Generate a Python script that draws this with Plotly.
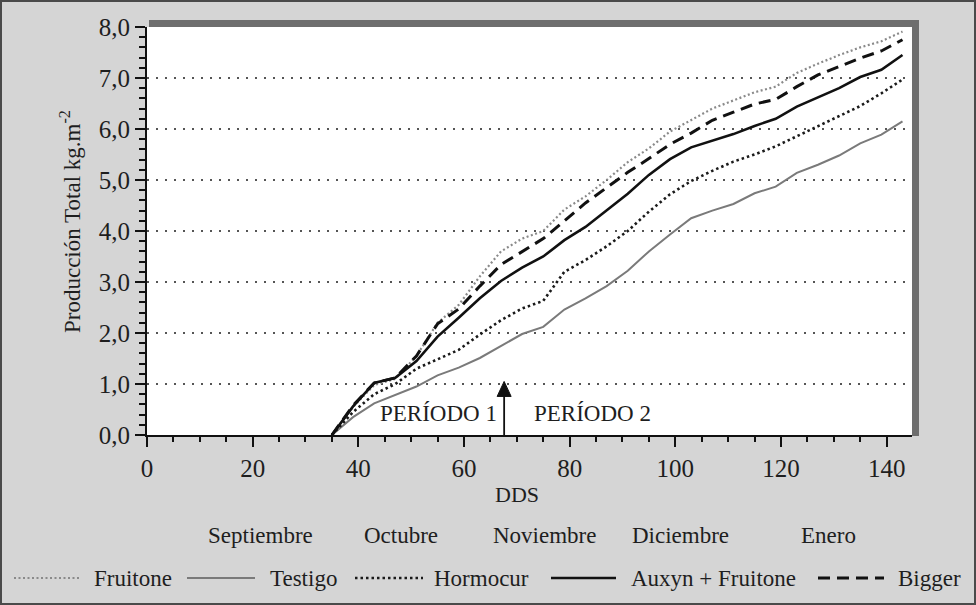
import plotly.graph_objects as go

# ---- data ----
dds = [35, 39, 43, 47, 51, 55, 59, 63, 67, 71, 75, 79, 83, 87, 91, 95, 99,
       103, 107, 111, 115, 119, 123, 127, 131, 135, 139, 143]

fruitone = [0, 0.55, 0.98, 1.10, 1.55, 2.20, 2.55, 3.11, 3.60, 3.85, 4.00, 4.42, 4.68,
            5.00, 5.35, 5.62, 5.95, 6.18, 6.40, 6.56, 6.72, 6.83, 7.10, 7.28, 7.45,
            7.60, 7.72, 7.91]
testigo = [0, 0.35, 0.62, 0.78, 0.95, 1.17, 1.32, 1.51, 1.75, 1.98, 2.12, 2.46, 2.68,
           2.92, 3.22, 3.60, 3.93, 4.25, 4.40, 4.53, 4.74, 4.87, 5.14, 5.30, 5.48,
           5.72, 5.89, 6.15]
hormocur = [0, 0.45, 0.80, 1.00, 1.30, 1.48, 1.67, 1.97, 2.25, 2.48, 2.63, 3.20, 3.43,
            3.70, 4.00, 4.38, 4.72, 4.98, 5.18, 5.36, 5.50, 5.66, 5.86, 6.05, 6.25,
            6.45, 6.70, 6.97]
auxyn = [0, 0.56, 1.02, 1.12, 1.45, 1.93, 2.30, 2.68, 3.02, 3.28, 3.50, 3.82, 4.08,
         4.40, 4.73, 5.10, 5.41, 5.64, 5.77, 5.90, 6.06, 6.20, 6.44, 6.62, 6.80,
         7.02, 7.16, 7.45]
bigger = [0, 0.58, 1.02, 1.12, 1.55, 2.18, 2.47, 2.92, 3.34, 3.60, 3.85, 4.20, 4.55,
          4.85, 5.15, 5.42, 5.70, 5.92, 6.17, 6.33, 6.49, 6.58, 6.83, 7.06, 7.22,
          7.39, 7.53, 7.75]

series_names = ["Fruitone", "Testigo", "Hormocur", "Auxyn + Fruitone", "Bigger"]
months = ["Septiembre", "Octubre", "Noviembre", "Diciembre", "Enero"]
periods = ["PERÍODO 1", "PERÍODO 2"]
arrow_dds = 67.6
arrow_top = 1.05
x_ticks = [0, 20, 40, 60, 80, 100, 120, 140]
y_ticks = [0, 1, 2, 3, 4, 5, 6, 7, 8]

FONT = "Liberation Serif, Times New Roman, serif"
TXT = "#1e1e1e"
BG = "#d5d5d5"

styles = [
    dict(color="#8a8a8a", width=2.2, dash="2px,2.5px"),
    dict(color="#7a7a7a", width=2.0, dash="solid"),
    dict(color="#1a1a1a", width=2.6, dash="2.5px,3px"),
    dict(color="#111111", width=2.6, dash="solid"),
    dict(color="#111111", width=3.0, dash="12px,7px"),
]
values = [fruitone, testigo, hormocur, auxyn, bigger]

fig = go.Figure()
for name, vals, st in zip(series_names, values, styles):
    fig.add_trace(go.Scatter(x=dds, y=vals, mode="lines", name=name,
                             line=dict(color=st["color"], width=st["width"], dash=st["dash"]),
                             showlegend=False))

L, R, T, B = 147, 64, 27, 170
W_PLOT = 976.0 - L - R
H_PLOT = 605.0 - T - B


def px_x(px):
    return (px - L) / W_PLOT


def px_y(py):
    return (605 - B - py) / H_PLOT


shapes = []
annotations = []

# figure border
shapes.append(dict(type="rect", xref="paper", yref="paper",
                   x0=px_x(1), x1=px_x(975), y0=px_y(604), y1=px_y(1),
                   line=dict(color="#4a4a4a", width=2), fillcolor="rgba(0,0,0,0)", layer="below"))
# thick grey frame on top and right of the plot area
shapes.append(dict(type="rect", xref="paper", yref="paper",
                   x0=px_x(149), x1=px_x(919), y0=px_y(27), y1=px_y(20),
                   line=dict(width=0), fillcolor="#6e6e6e"))
shapes.append(dict(type="rect", xref="paper", yref="paper",
                   x0=px_x(912), x1=px_x(919), y0=px_y(436), y1=px_y(20),
                   line=dict(width=0), fillcolor="#6e6e6e"))

# arrow between periods
shapes.append(dict(type="line", xref="x", yref="y", x0=arrow_dds, x1=arrow_dds,
                   y0=0, y1=arrow_top - 0.2, line=dict(color="#111111", width=1.8)))
shapes.append(dict(type="path", xref="x", yref="y", xsizemode="pixel", ysizemode="pixel",
                   xanchor=arrow_dds, yanchor=arrow_top,
                   path="M-7,-15 L7,-15 L0,0 Z", fillcolor="#111111",
                   line=dict(color="#111111", width=1)))

# custom legend
leg_y = px_y(578)
leg_samples = [(14, 81, 92), (187, 255, 268), (355, 423, 432), (551, 616, 629), (818, 884, 896)]
for (sx0, sx1, tx), name, st in zip(leg_samples, series_names, styles):
    shapes.append(dict(type="line", xref="paper", yref="paper",
                       x0=px_x(sx0), x1=px_x(sx1), y0=leg_y, y1=leg_y,
                       line=dict(color=st["color"], width=st["width"], dash=st["dash"])))
    annotations.append(dict(xref="paper", yref="paper", x=px_x(tx), y=leg_y,
                            xanchor="left", yanchor="middle", showarrow=False,
                            text=name, font=dict(family=FONT, size=23, color=TXT)))

# months
month_x = [260, 401, 544, 680, 828]
for m, mx in zip(months, month_x):
    annotations.append(dict(xref="paper", yref="paper", x=px_x(mx), y=px_y(535),
                            xanchor="center", yanchor="middle", showarrow=False,
                            text=m, font=dict(family=FONT, size=23, color=TXT)))

# axis titles
annotations.append(dict(xref="paper", yref="paper", x=px_x(517), y=px_y(494),
                        xanchor="center", yanchor="middle", showarrow=False,
                        text="DDS", font=dict(family=FONT, size=22, color=TXT)))
annotations.append(dict(xref="paper", yref="paper", x=px_x(70), y=px_y(222),
                        xanchor="center", yanchor="middle", showarrow=False, textangle=-90,
                        text="Producción Total kg.m<sup>-2</sup>",
                        font=dict(family=FONT, size=23, color=TXT)))

# period labels
annotations.append(dict(xref="paper", yref="paper", x=px_x(378), y=px_y(413),
                        xanchor="left", yanchor="middle", showarrow=False,
                        text=periods[0], font=dict(family=FONT, size=23, color=TXT)))
annotations.append(dict(xref="paper", yref="paper", x=px_x(532), y=px_y(413),
                        xanchor="left", yanchor="middle", showarrow=False,
                        text=periods[1], font=dict(family=FONT, size=23, color=TXT)))

fig.update_layout(
    width=976, height=605,
    margin=dict(l=L, r=R, t=T, b=B),
    paper_bgcolor=BG,
    plot_bgcolor="#ffffff",
    separators=",.",
    font=dict(family=FONT, size=19, color=TXT),
    shapes=shapes,
    annotations=annotations,
    xaxis=dict(range=[0, 144.8], tickvals=x_ticks, showgrid=False, zeroline=False,
               showline=True, linecolor="#111111", linewidth=2,
               ticks="outside", ticklen=10, tickwidth=2, tickcolor="#111111",
               minor=dict(dtick=5, ticks="outside", ticklen=5, tickwidth=1.5,
                          tickcolor="#111111", showgrid=False),
               tickfont=dict(family=FONT, size=25, color=TXT)),
    yaxis=dict(range=[0, 8], tickvals=y_ticks, tickformat=".1f",
               showgrid=True, gridcolor="#555555", gridwidth=1.8, griddash="2px,7px",
               zeroline=False, showline=True, linecolor="#111111", linewidth=2,
               ticks="outside", ticklen=10, tickwidth=2, tickcolor="#111111",
               minor=dict(dtick=0.2, ticks="outside", ticklen=6, tickwidth=1.5,
                          tickcolor="#111111", showgrid=False),
               tickfont=dict(family=FONT, size=25, color=TXT)),
)

fig.write_html("out.html",
               config={"displayModeBar": False},
               post_script="document.body.style.margin='0';"
                           "document.body.style.background='" + BG + "';")
